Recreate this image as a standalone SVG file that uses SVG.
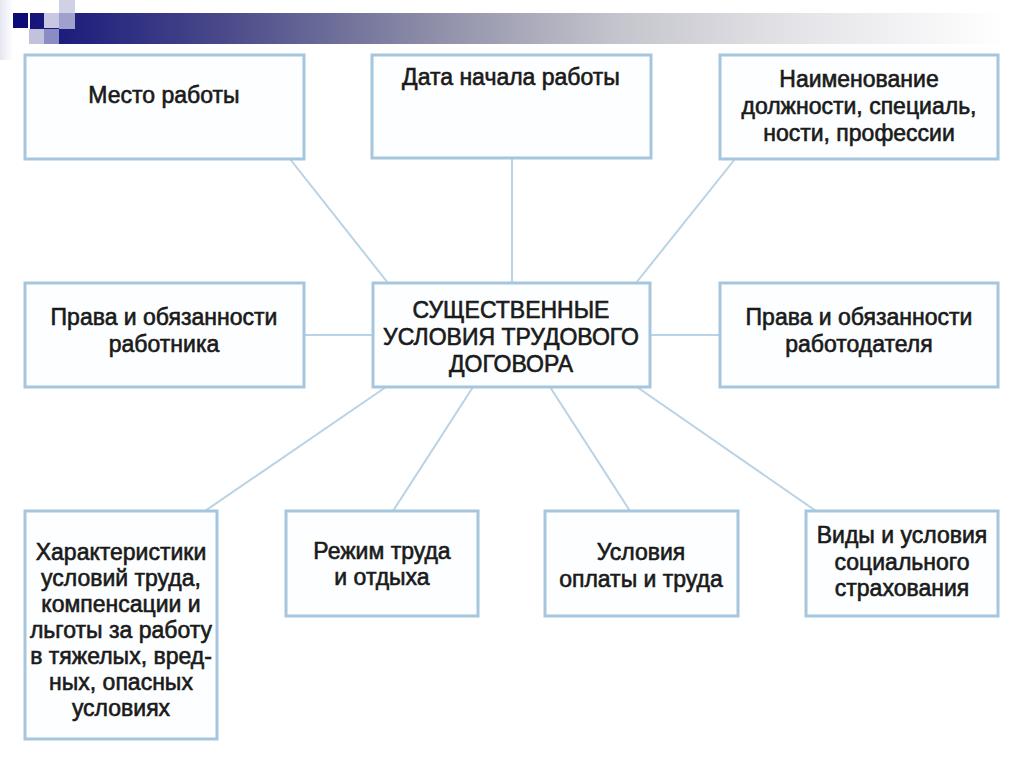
<svg xmlns="http://www.w3.org/2000/svg" width="1024" height="767" viewBox="0 0 1024 767">
<style>
.box{fill:#fcfeff;stroke:#a6c6de;stroke-width:3}
.t{font-family:"Liberation Sans",Arial,sans-serif;font-size:23px;fill:#1a1a1a;stroke:#1a1a1a;stroke-width:0.6;text-anchor:middle}
.c{stroke:#b9d3e6;stroke-width:2;fill:none}
</style>
<defs>
<linearGradient id="bar" x1="0" y1="0" x2="1" y2="0">
<stop offset="0" stop-color="#14147a"/>
<stop offset="0.2" stop-color="#4a4a8a"/>
<stop offset="0.4" stop-color="#8a8aa6"/>
<stop offset="0.6" stop-color="#c4c4cc"/>
<stop offset="0.8" stop-color="#e6e6ea"/>
<stop offset="1" stop-color="#ffffff"/>
</linearGradient>
<linearGradient id="side" x1="0" y1="0" x2="1" y2="0">
<stop offset="0" stop-color="#e6e6f2"/>
<stop offset="1" stop-color="#ffffff"/>
</linearGradient>
</defs>
<rect width="1024" height="767" fill="#ffffff"/>
<g id="header">
<rect x="0" y="0" width="13" height="60" fill="url(#side)"/>
<rect x="30" y="13" width="975" height="31" fill="url(#bar)"/>
<rect x="13" y="13" width="15" height="15" fill="#0c0c78"/>
<rect x="29" y="29" width="15" height="15" fill="#c2c2dc"/>
<rect x="44" y="13" width="15" height="15" fill="#c8c8e2"/>
<rect x="44" y="29" width="15" height="15" fill="#8c8cc4"/>
<rect x="59" y="0" width="16" height="13" fill="#d0d0e6"/>
<rect x="59" y="13" width="16" height="16" fill="#a0a0cc"/>
</g>
<g id="connectors">
<line class="c" x1="290" y1="159" x2="388" y2="283"/>
<line class="c" x1="512" y1="158" x2="512" y2="283"/>
<line class="c" x1="735" y1="159" x2="636" y2="283"/>
<line class="c" x1="304" y1="335" x2="373" y2="335"/>
<line class="c" x1="650" y1="335" x2="720" y2="335"/>
<line class="c" x1="386" y1="387" x2="205" y2="511"/>
<line class="c" x1="473" y1="387" x2="393" y2="511"/>
<line class="c" x1="550" y1="387" x2="630" y2="511"/>
<line class="c" x1="637" y1="387" x2="816" y2="511"/>
</g>
<g id="n-mesto">
<rect class="box" x="25" y="55" width="279" height="104"/>
<text class="t" x="164" y="103">Место работы</text>
</g>
<g id="n-data">
<rect class="box" x="372" y="55" width="279" height="103"/>
<text class="t" x="511" y="85">Дата начала работы</text>
</g>
<g id="n-naim">
<rect class="box" x="720" y="55" width="278" height="104"/>
<text class="t" x="859" y="87">Наименование</text>
<text class="t" x="859" y="114">должности, специаль,</text>
<text class="t" x="859" y="141">ности, профессии</text>
</g>
<g id="n-prava-rab">
<rect class="box" x="25" y="283" width="279" height="104"/>
<text class="t" x="164" y="325">Права и обязанности</text>
<text class="t" x="164" y="352">работника</text>
</g>
<g id="n-center">
<rect class="box" x="373" y="283" width="277" height="104"/>
<text class="t" x="511" y="318">СУЩЕСТВЕННЫЕ</text>
<text class="t" x="511" y="345">УСЛОВИЯ ТРУДОВОГО</text>
<text class="t" x="511" y="372">ДОГОВОРА</text>
</g>
<g id="n-prava-rabdat">
<rect class="box" x="720" y="283" width="278" height="104"/>
<text class="t" x="859" y="325">Права и обязанности</text>
<text class="t" x="859" y="352">работодателя</text>
</g>
<g id="n-harakt">
<rect class="box" x="25" y="511" width="192" height="228"/>
<text class="t" x="121" y="560">Характеристики</text>
<text class="t" x="121" y="586">условий труда,</text>
<text class="t" x="121" y="612">компенсации и</text>
<text class="t" x="121" y="638">льготы за работу</text>
<text class="t" x="121" y="664">в тяжелых, вред-</text>
<text class="t" x="121" y="690">ных, опасных</text>
<text class="t" x="121" y="716">условиях</text>
</g>
<g id="n-rezhim">
<rect class="box" x="286" y="511" width="192" height="105"/>
<text class="t" x="382" y="559">Режим труда</text>
<text class="t" x="382" y="585">и отдыха</text>
</g>
<g id="n-oplata">
<rect class="box" x="545" y="511" width="193" height="105"/>
<text class="t" x="641" y="560">Условия</text>
<text class="t" x="641" y="587">оплаты и труда</text>
</g>
<g id="n-vidy">
<rect class="box" x="806" y="511" width="192" height="105"/>
<text class="t" x="902" y="543">Виды и условия</text>
<text class="t" x="902" y="570">социального</text>
<text class="t" x="902" y="596">страхования</text>
</g>
</svg>
